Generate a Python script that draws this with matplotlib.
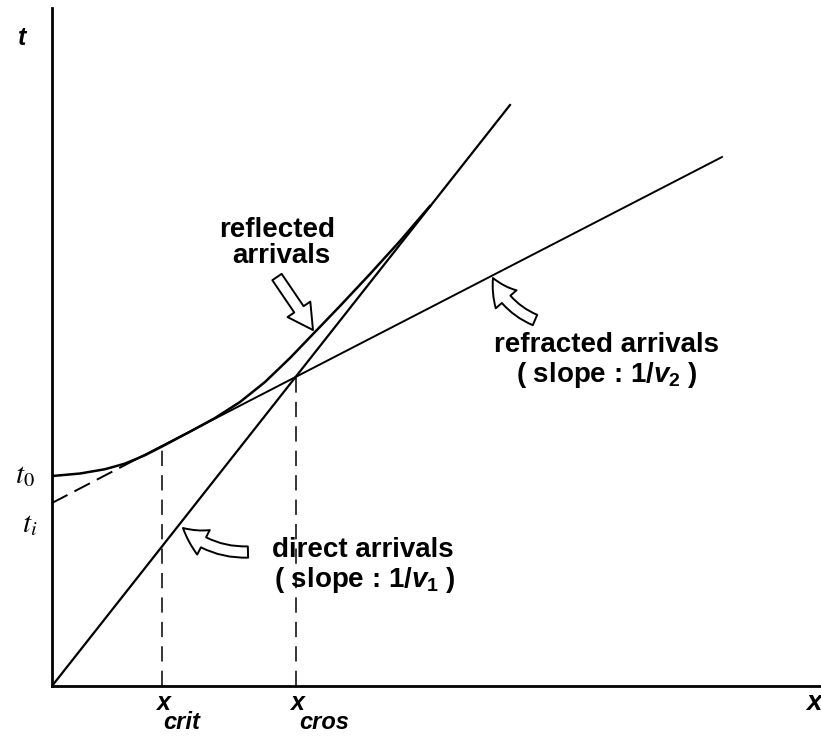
import numpy as np
import matplotlib
matplotlib.use('Agg')
import matplotlib.pyplot as plt

# values (arbitrary units, x = offset, t = travel time)
direct_x = [0, 45.8]
direct_t = [0, 58.1]

refr_x = [0, 7.3, 67.0]
refr_t = [18.3, 22.1, 52.9]

refl_x = [0, 2.8, 5.3, 7.3, 9.3, 11.0, 13.8, 16.3, 18.8, 21.3, 23.8, 26.3, 28.8, 31.8, 34.8, 37.8]
refl_t = [21.0, 21.25, 21.68, 22.24, 23.08, 23.95, 25.43, 26.8, 28.4, 30.4, 32.8, 35.4,
          38.0, 41.2, 44.5, 48.0]

x_crit = 11.0
x_cros = 24.4

plt.rcParams['font.family'] = ['Liberation Sans', 'DejaVu Sans']
plt.rcParams['mathtext.fontset'] = 'custom'
plt.rcParams['mathtext.rm'] = 'Liberation Sans:bold'
plt.rcParams['mathtext.it'] = 'Liberation Sans:italic:bold'
plt.rcParams['mathtext.bf'] = 'Liberation Sans:bold'

fig = plt.figure(figsize=(8.21, 7.36), dpi=100)
ax = fig.add_axes([0.0633, 0.0679, 0.9367, 0.9212])
ax.set_xlim(0, 76.9)
ax.set_ylim(0, 67.8)
ax.set_xticks([])
ax.set_yticks([])
for s in ['top', 'right']:
    ax.spines[s].set_visible(False)
for s in ['left', 'bottom']:
    ax.spines[s].set_linewidth(2)

# curves
ax.plot(direct_x, direct_t, c='k', lw=1.6)
ax.plot(refr_x[:2], refr_t[:2], c='k', lw=1.4, ls=(0, (9, 4)))
ax.plot(refr_x[1:], refr_t[1:], c='k', lw=1.4)
ax.plot(refl_x, refl_t, c='k', lw=1.8, solid_joinstyle='round')

# dashed verticals at critical and crossover distance
top_crit = np.interp(x_crit, refl_x, refl_t)
top_cros = np.interp(x_cros, direct_x, direct_t)
ax.plot([x_crit, x_crit], [0, top_crit], c='k', lw=1.1, ls=(0, (10, 6)))
ax.plot([x_cros, x_cros], [0, top_cros], c='k', lw=1.1, ls=(0, (10, 6)))

# hollow arrows
def hollow_arrow(tail, tip, rad):
    ax.annotate('', xy=tip, xytext=tail,
                arrowprops=dict(arrowstyle='simple,head_length=1.0,head_width=1.1,tail_width=0.45',
                                fc='white', ec='k', lw=1.4, shrinkA=0, shrinkB=0,
                                mutation_scale=18, connectionstyle='arc3,rad=%s' % rad))

hollow_arrow((22.5, 40.9), (26.1, 35.6), 0.0)
hollow_arrow((48.3, 36.6), (44.1, 40.8), -0.2)
hollow_arrow((19.6, 13.4), (13.1, 15.8), -0.2)

# labels
lab = dict(ha='center', va='baseline', fontsize=20, fontweight='bold')
ax.text(22.55, 44.9, 'reflected', **lab)
ax.text(22.9, 42.3, 'arrivals', **lab)
ax.text(55.5, 33.4, 'refracted arrivals', **lab)
ax.text(55.5, 30.4, r'( slope : 1/$v_{\mathit{2}}$ )', **lab)
ax.text(31.1, 12.9, 'direct arrivals', **lab)
ax.text(31.3, 9.9, r'( slope : 1/$v_{\mathit{1}}$ )', **lab)

axl = dict(ha='center', va='baseline', fontsize=18, fontweight='bold', fontstyle='italic')
ax.text(-3.0, 64.1, 't', **axl)
ax.text(76.2, -2.4, 'x', fontsize=20, ha='center', va='baseline',
        fontweight='bold', fontstyle='italic')
ax.text(11.1, -2.4, 'x', **axl)
ax.text(24.5, -2.4, 'x', **axl)
sub = dict(ha='center', va='baseline', fontsize=17, fontweight='bold', fontstyle='italic')
ax.text(13.0, -4.3, 'crit', **sub)
ax.text(27.2, -4.3, 'cros', **sub)

ax.text(-3.7, 20.3, r'$t_{\mathit{0}}$', math_fontfamily='stix', fontsize=21,
        ha='left', va='baseline')
ax.text(-3.0, 15.4, r'$t_{i}$', math_fontfamily='stix', fontsize=21,
        ha='left', va='baseline')

fig.savefig('out.png', dpi=100)
